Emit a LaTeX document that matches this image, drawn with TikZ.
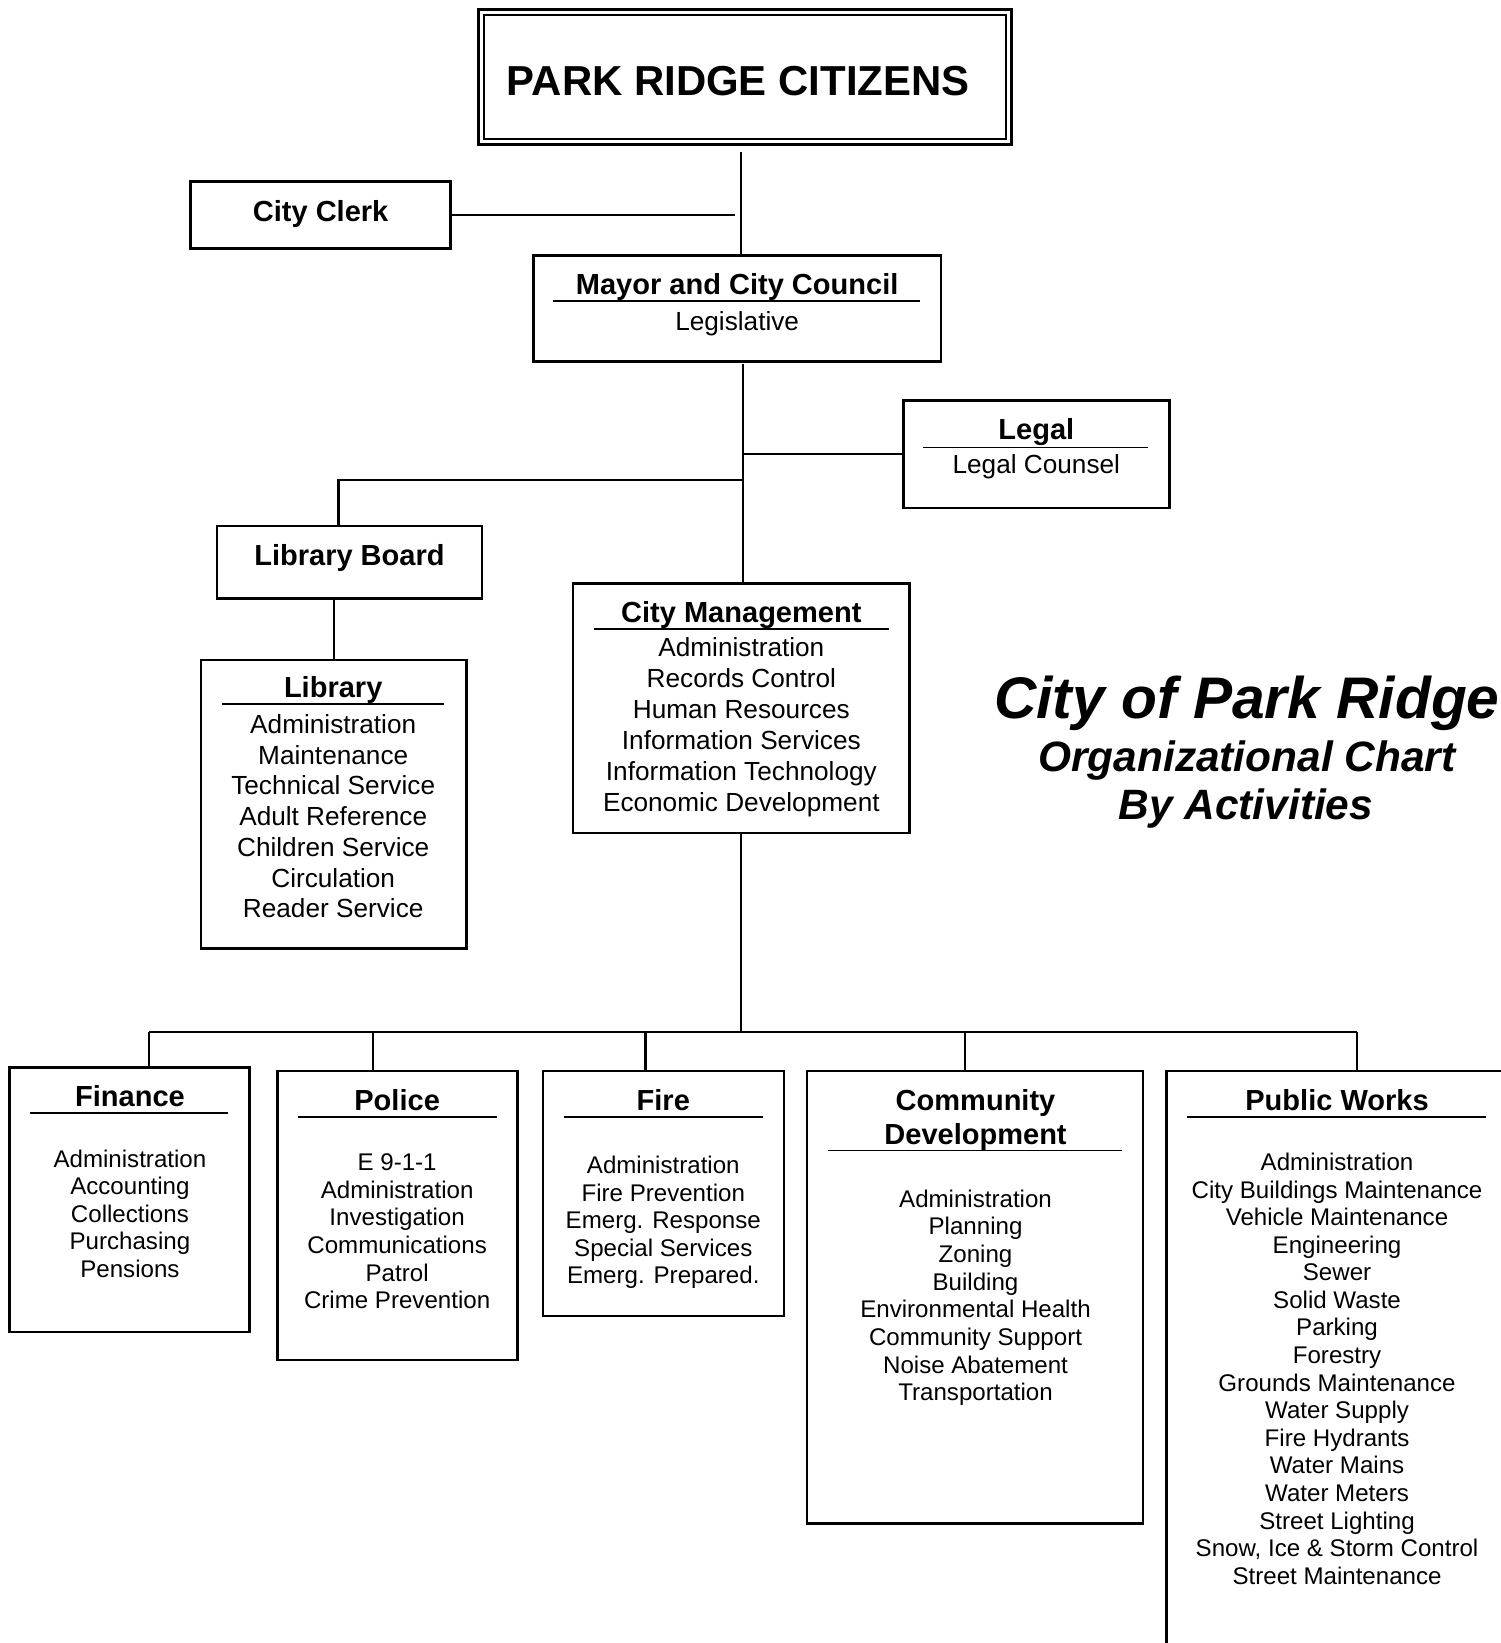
\documentclass[tikz,border=0pt]{standalone}
\usepackage{fontspec}
\setmainfont{Liberation Sans}
\begin{document}
\begin{tikzpicture}[x=1pt,y=1pt,
  box/.style={draw, line width=2.4pt, inner sep=0pt, outer sep=0pt, anchor=north west},
  conn/.style={line width=2pt},
  uline/.style={line width=1.7pt},
  hd/.style={font=\bfseries\fontsize{27.7}{32}\selectfont, inner sep=0pt, anchor=base},
  itL/.style={font=\fontsize{25}{29}\selectfont, inner sep=0pt, anchor=base},
  itS/.style={font=\fontsize{23}{26}\selectfont, inner sep=0pt, anchor=base},
  ttl/.style={font=\bfseries\itshape, inner sep=0pt, anchor=base}]
\fill[white] (0,0) rectangle (1432,-1568);
\useasboundingbox (0,0) rectangle (1432,-1568);

% ---------- boxes ----------
\node[box, line width=3pt, minimum width=508pt, minimum height=129pt] (prc) at (457,-9) {};
\node[box, line width=1.8pt, minimum width=498pt, minimum height=119pt] (prcin) at (462,-14) {};
\node[box, minimum width=248pt, minimum height=64pt] (clerk) at (182,-173) {};
\node[box, minimum width=389pt, minimum height=101pt] (mayor) at (509,-244) {};
\node[box, minimum width=254pt, minimum height=103pt] (legal) at (862,-382) {};
\node[box, minimum width=253pt, minimum height=69pt] (lb) at (207,-502) {};
\node[box, minimum width=253pt, minimum height=275pt] (lib) at (192,-630) {};
\node[box, minimum width=321pt, minimum height=238pt] (cm) at (547,-557) {};
\node[box, minimum width=229pt, minimum height=252pt] (fin) at (9,-1019) {};
\node[box, minimum width=229pt, minimum height=276pt] (pol) at (265,-1022) {};
\node[box, minimum width=230pt, minimum height=234pt] (fire) at (518,-1022) {};
\node[box, minimum width=321pt, minimum height=432pt] (cd) at (770,-1022) {};
\node[box, minimum width=367pt, minimum height=598pt] (pw) at (1113,-1022) {};

% ---------- connectors ----------
\coordinate (a1) at (707,-145);
\draw[conn] (a1) -- (a1 |- mayor.north);
\coordinate (clerkEnd) at (701,-205);
\draw[conn] (clerk.east) -- (clerkEnd);
\coordinate (a2) at (709,-347);
\draw[conn] (a2) -- (a2 |- cm.north);
\coordinate (a3) at (709,-433.5);
\draw[conn] (a3) -- (legal.west);
\coordinate (a4) at (709,-458);
\coordinate (a5) at (323,-458);
\draw[conn] (a4) -- (a5) -- (a5 |- lb.north);
\draw[conn] (lib.north |- lb.south) -- (lib.north);
\coordinate (bus) at (707,-985);
\draw[conn] (bus |- cm.south) -- (bus);
\coordinate (busL) at (142,-985);
\coordinate (busR) at (1295,-985);
\draw[conn] (busL) -- (busR);
\coordinate (bPol) at (356,-985);
\coordinate (bFire) at (616,-985);
\coordinate (bCd) at (921,-985);
\draw[conn] (busL) -- (busL |- fin.north);
\draw[conn] (bPol) -- (bPol |- pol.north);
\draw[conn] (bFire) -- (bFire |- fire.north);
\draw[conn] (bCd) -- (bCd |- cd.north);
\draw[conn] (busR) -- (busR |- pw.north);

% ---------- underlines ----------
\draw[uline] (528,-287) -- (878,-287);
\draw[uline] (881,-427) -- (1096,-427);
\draw[uline] (212,-672) -- (424,-672);
\draw[uline] (567,-600) -- (848,-600);
\draw[uline] (29,-1062) -- (218,-1062);
\draw[uline] (284,-1066) -- (474,-1066);
\draw[uline] (538,-1066) -- (728,-1066);
\draw[uline] (790,-1098) -- (1071,-1098);
\draw[uline] (1133,-1066) -- (1418,-1066);

% ---------- texts ----------
\node[hd, font=\bfseries\fontsize{40}{44}\selectfont] (tprc) at (704.5,-91) {PARK RIDGE CITIZENS};
\node[hd] (tclerk) at (306,-211) {City Clerk};
\node[hd] (tmayor) at (703.5,-281) {Mayor and City Council};
\node[itL] (tleg) at (703.5,-315) {Legislative};
\node[hd] (tlegal) at (989,-419) {Legal};
\node[itL] (tcounsel) at (989,-452) {Legal Counsel};
\node[hd] (tlb) at (333.5,-540) {Library Board};
\node[hd] (tlib) at (318,-666) {Library};
\foreach \t [count=\i] in {Administration,Maintenance,Technical Service,Adult Reference,Children Service,Circulation,Reader Service}
  \node[itL] (lib-\i) at (318,{-700-(\i-1)*29.33}) {\t};
\node[hd] (tcm) at (707.5,-594) {City Management};
\foreach \t [count=\i] in {Administration,Records Control,Human Resources,Information Services,Information Technology,Economic Development}
  \node[itL] (cm-\i) at (707.5,{-627-(\i-1)*29.4}) {\t};

\node[hd] (tfin) at (124,-1056) {Finance};
\foreach \t [count=\i] in {Administration,Accounting,Collections,Purchasing,Pensions}
  \node[itS] (fin-\i) at (124,{-1114-(\i-1)*26.25}) {\t};
\node[hd] (tpol) at (379,-1060) {Police};
\foreach \t [count=\i] in {E 9-1-1,Administration,Investigation,Communications,Patrol,Crime Prevention}
  \node[itS] (pol-\i) at (379,{-1117-(\i-1)*26.4}) {\t};
\node[hd] (tfire) at (633,-1060) {Fire};
\foreach \t [count=\i] in {Administration,Fire Prevention,Emerg. Response,Special Services,Emerg. Prepared.}
  \node[itS] (fire-\i) at (633,{-1120-(\i-1)*26.25}) {\t};
\node[hd] (tcd1) at (931,-1060) {Community};
\node[hd] (tcd2) at (931,-1092) {Development};
\foreach \t [count=\i] in {Administration,Planning,Zoning,Building,Environmental Health,Community Support,Noise Abatement,Transportation}
  \node[itS] (cd-\i) at (931,{-1152-(\i-1)*26.43}) {\t};
\node[hd] (tpw) at (1276,-1060) {Public Works};
\foreach \t [count=\i] in {Administration,City Buildings Maintenance,Vehicle Maintenance,Engineering,Sewer,Solid Waste,Parking,Forestry,Grounds Maintenance,Water Supply,Fire Hydrants,Water Mains,Water Meters,Street Lighting,{Snow, Ice \& Storm Control},Street Maintenance}
  \node[itS] (pw-\i) at (1276,{-1117-(\i-1)*26.33}) {\t};

% ---------- title ----------
\node[ttl, font=\bfseries\itshape\fontsize{56}{60}\selectfont] (title1) at (1190,-686) {City of Park Ridge};
\node[ttl, font=\bfseries\itshape\fontsize{40.5}{44}\selectfont] (title2) at (1190,-736) {Organizational Chart};
\node[ttl, font=\bfseries\itshape\fontsize{40.5}{44}\selectfont] (title3) at (1189,-782) {By Activities};
\end{tikzpicture}
\end{document}
